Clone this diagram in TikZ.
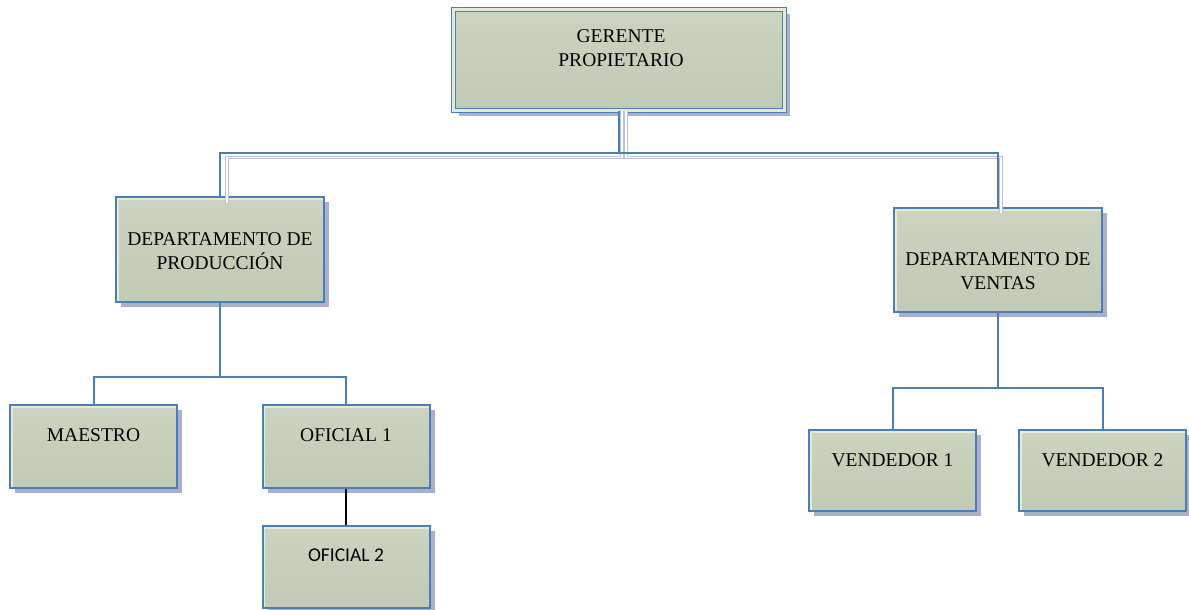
\documentclass[tikz,border=0pt]{standalone}
\usepackage{fontspec}
\setmainfont{Liberation Serif}
\newfontfamily\calib{Carlito}
\usetikzlibrary{shadows}
\definecolor{bordo}{RGB}{74,126,187}
\definecolor{fillg}{RGB}{193,202,180}
\definecolor{filllight}{RGB}{204,211,192}
\definecolor{hilite}{RGB}{230,235,212}
\definecolor{shad}{RGB}{168,176,204}
\definecolor{conshad}{RGB}{186,192,214}
\tikzset{
  orgbox/.style={draw=bordo, line width=2pt, top color=filllight, bottom color=fillg,
    inner sep=0pt,
    drop shadow={shadow xshift=5pt, shadow yshift=-5pt, fill=shad, opacity=1},
    path picture={\draw[hilite, line width=5.5pt]
      (path picture bounding box.south west) -- (path picture bounding box.north west)
      -- (path picture bounding box.north east);}},
  bigbox/.style={draw=bordo, line width=1.7pt, double=hilite, double distance=2.4pt,
    top color=filllight, bottom color=fillg, inner sep=0pt,
    drop shadow={shadow xshift=5pt, shadow yshift=-5pt, fill=shad, opacity=1}},
  lbl/.style={font=\fontsize{19.5}{24}\selectfont, align=center, inner sep=0pt, anchor=base},
  conn/.style={draw=bordo, line width=2pt},
  connshad/.style={draw=conshad, line width=0.9pt, double=white, double distance=1.6pt},
  blackconn/.style={draw=black, line width=1.4pt}
}
\begin{document}
\begin{tikzpicture}[x=1pt,y=-1pt]
\useasboundingbox (0,0) rectangle (1189,610);
% boxes
\node[bigbox, minimum width=331pt, minimum height=101pt] (ger) at (619,60) {};
\node[orgbox, minimum width=208pt, minimum height=105pt] (prod) at (220,249.5) {};
\node[orgbox, minimum width=208pt, minimum height=104pt] (ventas) at (998,260) {};
\node[orgbox, minimum width=167pt, minimum height=83pt] (maestro) at (93.5,446.5) {};
\node[orgbox, minimum width=167pt, minimum height=83pt] (of1) at (346,446.5) {};
\node[orgbox, minimum width=167pt, minimum height=82pt] (of2) at (346,567) {};
\node[orgbox, minimum width=167pt, minimum height=81pt] (v1) at (892.5,470.5) {};
\node[orgbox, minimum width=167pt, minimum height=81pt] (v2) at (1102.5,470.5) {};
% labels (base = baseline of the last line)
\node[lbl] (tger) at (621,66.5) {GERENTE\\PROPIETARIO};
\node[lbl] (tprod) at (220,269.5) {DEPARTAMENTO DE\\PRODUCCIÓN};
\node[lbl] (tventas) at (998,289.5) {DEPARTAMENTO DE\\VENTAS};
\node[lbl] (tmaestro) at (93.5,441.5) {MAESTRO};
\node[lbl] (tof1) at (346,441.5) {OFICIAL 1};
\node[lbl, font=\calib\fontsize{19.5}{24}\selectfont] (tof2) at (346,561.5) {OFICIAL 2};
\node[lbl] (tv1) at (892.5,466.5) {VENDEDOR 1};
\node[lbl] (tv2) at (1102.5,466.5) {VENDEDOR 2};
% bus coordinates
\coordinate (bus) at (0,153);
\coordinate (sbus) at (0,157.5);
\coordinate (pbus) at (0,377);
\coordinate (vbus) at (0,388);
% connector shadows (top level)
\draw[connshad] ([xshift=3pt]ger.south) -- ([xshift=3pt]ger.south |- sbus) -| ([xshift=7pt,yshift=-7pt]prod.north);
\draw[connshad] ([xshift=7pt]ger.south) -- ([xshift=7pt]ger.south |- sbus) -| ([xshift=3pt,yshift=-6pt]ventas.north);
% connectors
\draw[conn] (ger.south) -- (ger.south |- bus) -| (prod.north);
\draw[conn] (ger.south |- bus) -| (ventas.north);
\draw[conn] (prod.south) -- (prod.south |- pbus) -| (maestro.north);
\draw[conn] (prod.south |- pbus) -| (of1.north);
\draw[conn] (ventas.south) -- (ventas.south |- vbus) -| (v1.north);
\draw[conn] (ventas.south |- vbus) -| (v2.north);
\draw[blackconn] (of1.south) -- (of2.north);
\end{tikzpicture}
\end{document}
